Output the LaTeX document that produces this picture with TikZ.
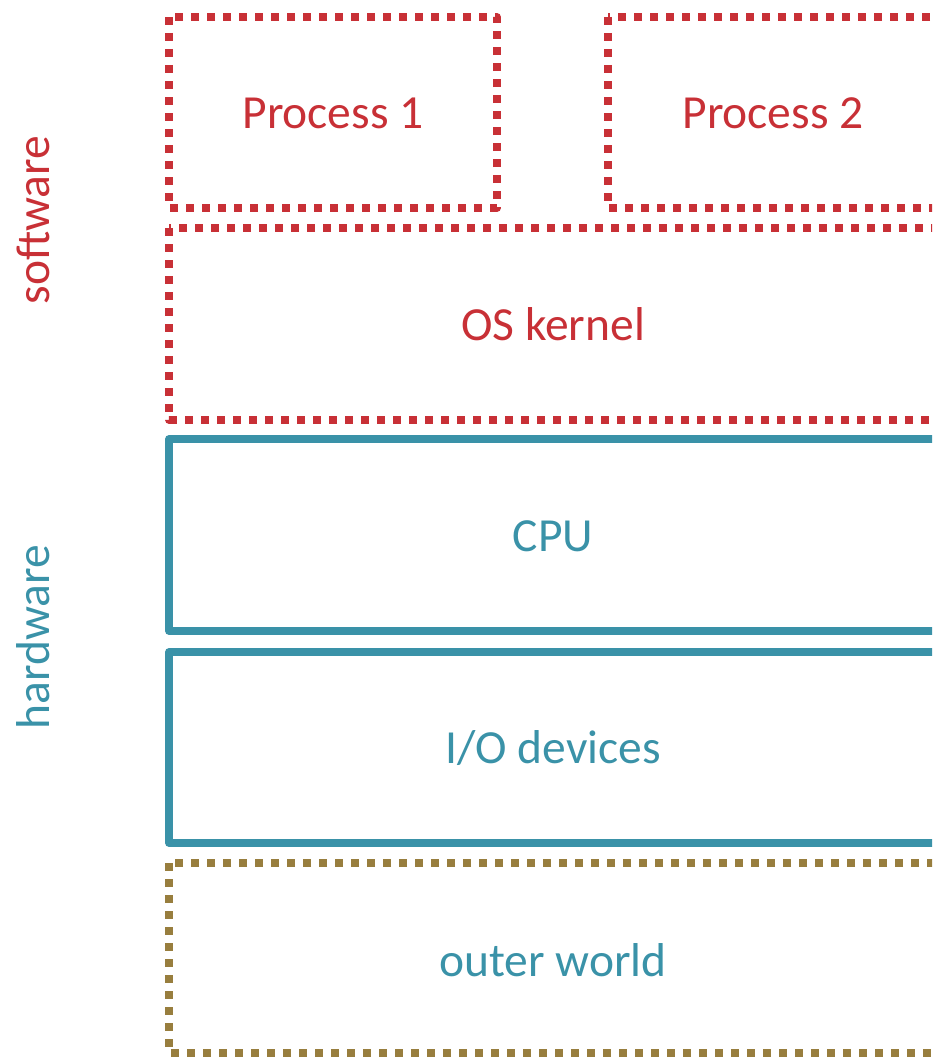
\documentclass[tikz,border=0pt]{standalone}
\usepackage{fontspec}
\setmainfont{Carlito}
\definecolor{swred}{RGB}{200,48,54}
\definecolor{hwteal}{RGB}{58,146,168}
\definecolor{worldolive}{RGB}{152,126,62}
\tikzset{
  layer/.style={line width=7.5pt, line join=round},
  dotted layer/.style={layer, dash pattern=on 8pt off 8pt},
  swbox/.style={dotted layer, draw=swred},
  hwbox/.style={layer, draw=hwteal},
  worldbox/.style={dotted layer, draw=worldolive},
  lbl/.style={font=\fontsize{47.5}{52}\selectfont},
  side/.style={lbl, rotate=90}
}
\begin{document}
\begin{tikzpicture}[x=1pt,y=-1pt]
  \useasboundingbox (0,0) rectangle (932,1057);
  \begin{scope}
    \clip (0,0) rectangle (932,1057);
    % software layers
    \draw[swbox] (169,17) rectangle (497,208);
    \draw[swbox] (608,17) rectangle (938,208);
    \draw[swbox] (169,228) rectangle (938,420);
    % hardware layers
    \draw[hwbox] (169,439) rectangle (938,631);
    \draw[hwbox] (169,652) rectangle (938,843);
    % environment
    \draw[worldbox] (169,863) rectangle (938,1053);
  \end{scope}
  \node[lbl, text=swred] (p1) at (333,113) {Process 1};
  \node[lbl, text=swred] (p2) at (773,113) {Process 2};
  \node[lbl, text=swred] (os) at (553,324) {OS kernel};
  \node[lbl, text=hwteal] (cpu) at (553,536) {CPU};
  \node[lbl, text=hwteal] (io) at (553,748) {I/O devices};
  \node[lbl, text=hwteal] (world) at (553,960) {outer world};
  \node[side, text=swred] (sw) at (33,220) {software};
  \node[side, text=hwteal] (hw) at (33,637) {hardware};
\end{tikzpicture}
\end{document}
